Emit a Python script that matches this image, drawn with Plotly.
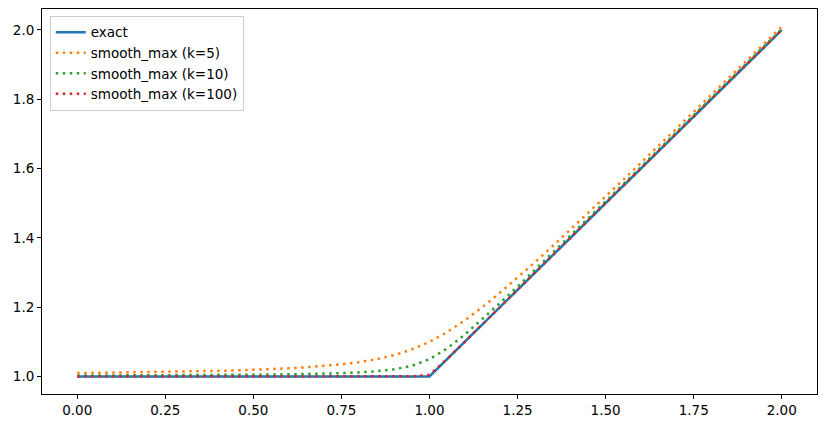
import plotly.graph_objects as go

# sample points
x = [0.00, 0.05, 0.10, 0.15, 0.20, 0.25, 0.30, 0.35, 0.40, 0.45,
     0.50, 0.55, 0.60, 0.65, 0.70, 0.75, 0.80, 0.85, 0.90, 0.95,
     1.00, 1.05, 1.10, 1.15, 1.20, 1.25, 1.30, 1.35, 1.40, 1.45,
     1.50, 1.55, 1.60, 1.65, 1.70, 1.75, 1.80, 1.85, 1.90, 1.95, 2.00]

exact = [1.0] * 21 + [1.05, 1.10, 1.15, 1.20, 1.25, 1.30, 1.35, 1.40, 1.45,
                      1.50, 1.55, 1.60, 1.65, 1.70, 1.75, 1.80, 1.85, 1.90, 1.95, 2.00]

smooth_k5 = [1.0099, 1.0104, 1.0110, 1.0116, 1.0123, 1.0131, 1.0140, 1.0150, 1.0162, 1.0176,
             1.0193, 1.0212, 1.0236, 1.0266, 1.0303, 1.0351, 1.0414, 1.0500, 1.0618, 1.0781,
             1.1000, 1.1281, 1.1618, 1.2000, 1.2414, 1.2851, 1.3303, 1.3766, 1.4236, 1.4712,
             1.5193, 1.5676, 1.6162, 1.6650, 1.7140, 1.7631, 1.8123, 1.8616, 1.9110, 1.9604, 2.0099]

smooth_k10 = [1.0025, 1.0026, 1.0028, 1.0029, 1.0031, 1.0033, 1.0036, 1.0038, 1.0041, 1.0045,
              1.0050, 1.0055, 1.0062, 1.0070, 1.0081, 1.0096, 1.0118, 1.0151, 1.0207, 1.0309,
              1.0500, 1.0809, 1.1207, 1.1651, 1.2118, 1.2596, 1.3081, 1.3570, 1.4062, 1.4555,
              1.5050, 1.5545, 1.6041, 1.6538, 1.7036, 1.7533, 1.8031, 1.8529, 1.9028, 1.9526, 2.0025]

smooth_k100 = [1.0000, 1.0000, 1.0000, 1.0000, 1.0000, 1.0000, 1.0000, 1.0000, 1.0000, 1.0000,
               1.0000, 1.0000, 1.0000, 1.0000, 1.0000, 1.0001, 1.0001, 1.0002, 1.0002, 1.0005,
               1.0050, 1.0505, 1.1002, 1.1502, 1.2001, 1.2501, 1.3001, 1.3501, 1.4001, 1.4501,
               1.5001, 1.5501, 1.6001, 1.6501, 1.7001, 1.7501, 1.8001, 1.8501, 1.9001, 1.9501, 2.0001]

fig = go.Figure()
fig.add_trace(go.Scatter(x=x, y=exact, mode="lines", name="exact", legendgroup="a",
                         line=dict(color="#1f77b4", width=2.6)))
series = [("smooth_max (k=5)", smooth_k5, "#ff7f0e"),
          ("smooth_max (k=10)", smooth_k10, "#2ca02c"),
          ("smooth_max (k=100)", smooth_k100, "#d62728")]
for name, ys, col in series:
    fig.add_trace(go.Scatter(x=x, y=ys, mode="lines", name=name, legendgroup=name,
                             line=dict(color=col, width=2.5, dash="2.5px,4.5px")))

axis_style = dict(showgrid=False, zeroline=False, showline=True, linecolor="black",
                  linewidth=1, mirror=True, ticks="outside", ticklen=4,
                  tickcolor="black", tickfont=dict(size=13.5, color="black"),
                  automargin=False)
fig.update_xaxes(range=[-0.1, 2.1], tickvals=[0, 0.25, 0.5, 0.75, 1.0, 1.25, 1.5, 1.75, 2.0],
                 tickformat=".2f", **axis_style)
fig.update_yaxes(range=[0.9495, 2.0604], tickvals=[1.0, 1.2, 1.4, 1.6, 1.8, 2.0],
                 tickformat=".1f", **axis_style)

fig.update_layout(
    width=826, height=428,
    margin=dict(l=42, r=9, t=9, b=34, autoexpand=False),
    plot_bgcolor="white", paper_bgcolor="white",
    font=dict(family="DejaVu Sans", size=13.5, color="black"),
    legend=dict(x=0.01, y=0.982, xanchor="left", yanchor="top",
                bgcolor="rgba(255,255,255,0.8)", bordercolor="#cccccc", borderwidth=1,
                font=dict(size=13.5), tracegroupgap=0, itemwidth=30),
    showlegend=True,
)
# drop the page's default 8px body margin so the figure sits at the window corner
fig.write_html("out.html", config={"displayModeBar": False},
               post_script="document.body.style.margin='0';")
